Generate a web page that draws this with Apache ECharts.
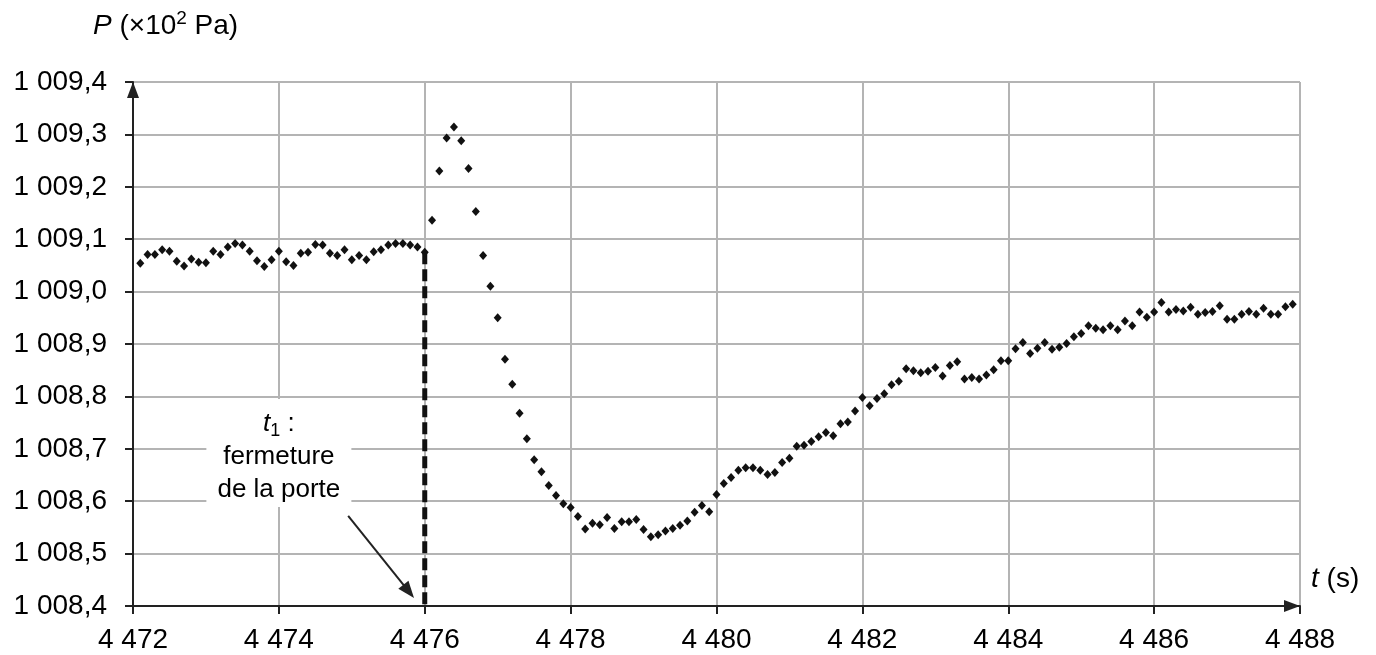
<!DOCTYPE html>
<html>
<head>
<meta charset="utf-8">
<script src="https://cdn.jsdelivr.net/npm/echarts@6/dist/echarts.min.js"></script>
<style>
  html, body { margin: 0; padding: 0; background: #ffffff; }
  #chart { width: 1376px; height: 655px; }
</style>
</head>
<body>
<div id="chart"></div>
<script>
// ---- axis settings and tick labels ----
const xMin = 4472, xMax = 4488, xStep = 2;
const yMin = 1008.4, yMax = 1009.4, yStep = 0.1;
const xTickLabels = ['4 472', '4 474', '4 476', '4 478', '4 480', '4 482', '4 484', '4 486', '4 488'];
const yTickLabels = ['1 008,4', '1 008,5', '1 008,6', '1 008,7', '1 008,8', '1 008,9', '1 009,0', '1 009,1', '1 009,2', '1 009,3', '1 009,4'];

// ---- measured samples: time t (s) ----
const times = [
  4472.1, 4472.2, 4472.3, 4472.4, 4472.5, 4472.6, 4472.7, 4472.8, 4472.9, 4473.0,
  4473.1, 4473.2, 4473.3, 4473.4, 4473.5, 4473.6, 4473.7, 4473.8, 4473.9, 4474.0,
  4474.1, 4474.2, 4474.3, 4474.4, 4474.5, 4474.6, 4474.7, 4474.8, 4474.9, 4475.0,
  4475.1, 4475.2, 4475.3, 4475.4, 4475.5, 4475.6, 4475.7, 4475.8, 4475.9, 4476.0,
  4476.1, 4476.2, 4476.3, 4476.4, 4476.5, 4476.6, 4476.7, 4476.8, 4476.9, 4477.0,
  4477.1, 4477.2, 4477.3, 4477.4, 4477.5, 4477.6, 4477.7, 4477.8, 4477.9, 4478.0,
  4478.1, 4478.2, 4478.3, 4478.4, 4478.5, 4478.6, 4478.7, 4478.8, 4478.9, 4479.0,
  4479.1, 4479.2, 4479.3, 4479.4, 4479.5, 4479.6, 4479.7, 4479.8, 4479.9, 4480.0,
  4480.1, 4480.2, 4480.3, 4480.4, 4480.5, 4480.6, 4480.7, 4480.8, 4480.9, 4481.0,
  4481.1, 4481.2, 4481.3, 4481.4, 4481.5, 4481.6, 4481.7, 4481.8, 4481.9, 4482.0,
  4482.1, 4482.2, 4482.3, 4482.4, 4482.5, 4482.6, 4482.7, 4482.8, 4482.9, 4483.0,
  4483.1, 4483.2, 4483.3, 4483.4, 4483.5, 4483.6, 4483.7, 4483.8, 4483.9, 4484.0,
  4484.1, 4484.2, 4484.3, 4484.4, 4484.5, 4484.6, 4484.7, 4484.8, 4484.9, 4485.0,
  4485.1, 4485.2, 4485.3, 4485.4, 4485.5, 4485.6, 4485.7, 4485.8, 4485.9, 4486.0,
  4486.1, 4486.2, 4486.3, 4486.4, 4486.5, 4486.6, 4486.7, 4486.8, 4486.9, 4487.0,
  4487.1, 4487.2, 4487.3, 4487.4, 4487.5, 4487.6, 4487.7, 4487.8, 4487.9
];

// ---- measured samples: pressure P (x10^2 Pa) ----
const pressure = [
  1009.054, 1009.071, 1009.071, 1009.080, 1009.077, 1009.058, 1009.049, 1009.062, 1009.056, 1009.055,
  1009.077, 1009.071, 1009.085, 1009.092, 1009.089, 1009.077, 1009.059, 1009.048, 1009.061, 1009.077,
  1009.057, 1009.050, 1009.073, 1009.075, 1009.090, 1009.089, 1009.073, 1009.069, 1009.080, 1009.061,
  1009.069, 1009.061, 1009.076, 1009.080, 1009.089, 1009.092, 1009.092, 1009.089, 1009.085, 1009.075,
  1009.136, 1009.230, 1009.293, 1009.314, 1009.288, 1009.235, 1009.153, 1009.069, 1009.010, 1008.950,
  1008.871, 1008.823, 1008.768, 1008.719, 1008.679, 1008.656, 1008.630, 1008.611, 1008.595, 1008.588,
  1008.571, 1008.547, 1008.558, 1008.555, 1008.569, 1008.548, 1008.561, 1008.561, 1008.565, 1008.546,
  1008.532, 1008.536, 1008.543, 1008.548, 1008.554, 1008.562, 1008.579, 1008.592, 1008.580, 1008.613,
  1008.634, 1008.645, 1008.659, 1008.664, 1008.664, 1008.659, 1008.651, 1008.655, 1008.674, 1008.682,
  1008.705, 1008.707, 1008.714, 1008.723, 1008.731, 1008.725, 1008.748, 1008.751, 1008.772, 1008.798,
  1008.782, 1008.796, 1008.805, 1008.822, 1008.829, 1008.853, 1008.849, 1008.845, 1008.848, 1008.855,
  1008.839, 1008.859, 1008.866, 1008.833, 1008.836, 1008.833, 1008.841, 1008.851, 1008.868, 1008.868,
  1008.891, 1008.903, 1008.882, 1008.892, 1008.903, 1008.890, 1008.894, 1008.901, 1008.914, 1008.920,
  1008.935, 1008.930, 1008.927, 1008.935, 1008.927, 1008.944, 1008.935, 1008.961, 1008.951, 1008.961,
  1008.979, 1008.961, 1008.966, 1008.963, 1008.970, 1008.957, 1008.960, 1008.962, 1008.973, 1008.947,
  1008.947, 1008.957, 1008.962, 1008.957, 1008.968, 1008.957, 1008.957, 1008.971, 1008.976
];

// ---- annotation: door closing instant t1 ----
const t1 = 4476.0;
const t1Label = ['t', '1', ' :', 'fermeture', 'de la porte'];
const annotAnchor = [4474.0, 1008.692];            // centre of the text box
const arrowStart = [4474.95, 1008.572];
const arrowEnd = [4475.78, 1008.428];

const points = times.map((t, i) => [t, pressure[i]]);
const t1Index = times.indexOf(t1);
const dashLine = [[t1, pressure[t1Index]], [t1, yMin]];

const FONT = 'Liberation Sans, Arial, Helvetica, sans-serif';
const INK = '#111111';
const TXT = '#000000';
const GRID = '#b4b4b4';

const chart = echarts.init(document.getElementById('chart'), null, { renderer: 'canvas' });

const option = {
  backgroundColor: '#ffffff',
  animation: false,
  grid: { left: 133, right: 76, top: 82, bottom: 49, containLabel: false },
  xAxis: {
    type: 'value',
    min: xMin, max: xMax, interval: xStep,
    axisLine: {
      show: true,
      lineStyle: { color: '#222', width: 2 },
      symbol: ['none', 'triangle'],
      symbolSize: [12, 16],
      symbolOffset: [0, -8]
    },
    axisTick: { show: true, length: 8, inside: false, lineStyle: { color: '#222', width: 2 } },
    axisLabel: {
      fontSize: 28, color: TXT, fontFamily: FONT, margin: 20,
      formatter: v => xTickLabels[Math.round((v - xMin) / xStep)]
    },
    splitLine: { show: true, lineStyle: { color: GRID, width: 2 } }
  },
  yAxis: {
    type: 'value',
    min: yMin, max: yMax, interval: yStep,
    axisLine: {
      show: true,
      lineStyle: { color: '#222', width: 2 },
      symbol: ['none', 'triangle'],
      symbolSize: [12, 16],
      symbolOffset: [0, -8]
    },
    axisTick: { show: true, length: 8, inside: false, lineStyle: { color: '#222', width: 2 } },
    axisLabel: {
      fontSize: 28, color: TXT, fontFamily: FONT, margin: 26,
      formatter: v => yTickLabels[Math.round((v - yMin) / yStep)]
    },
    splitLine: { show: true, lineStyle: { color: GRID, width: 2 } }
  },
  series: [
    {
      name: 'closing',
      type: 'line',
      data: dashLine,
      symbol: 'none',
      z: 3,
      lineStyle: { color: '#111', width: 5, type: [12, 5] },
      markLine: {
        silent: true,
        symbol: ['none', 'triangle'],
        symbolSize: [13, 17],
        label: { show: false },
        lineStyle: { color: '#222', width: 2, type: 'solid', opacity: 1 },
        data: [[{ coord: arrowStart }, { coord: arrowEnd }]]
      }
    },
    {
      name: 'P',
      type: 'scatter',
      data: points,
      symbol: 'diamond',
      symbolSize: [8, 9],
      z: 4,
      itemStyle: { color: INK, opacity: 1 }
    },
    {
      name: 'annotation',
      type: 'scatter',
      data: [annotAnchor],
      symbolSize: 0,
      z: 2,
      itemStyle: { opacity: 1 },
      label: {
        show: true,
        position: 'inside',
        color: TXT,
        opacity: 1,
        backgroundColor: '#ffffff',
        padding: [8, 10, 1, 10],
        width: 125,
        align: 'center',
        verticalAlign: 'middle',
        formatter: '{it|' + t1Label[0] + '}{sub|' + t1Label[1] + '}{n|' + t1Label[2] + '}\n{n|' + t1Label[3] + '}\n{n|' + t1Label[4] + '}',
        rich: {
          it: { fontSize: 26, fontStyle: 'italic', fontFamily: FONT, color: TXT, lineHeight: 33 },
          sub: { fontSize: 18, fontFamily: FONT, color: TXT, lineHeight: 16, verticalAlign: 'bottom' },
          n: { fontSize: 26, fontFamily: FONT, color: TXT, lineHeight: 33, align: 'center' }
        }
      }
    }
  ],
  graphic: [
    {
      type: 'text',
      left: 93, top: 9,
      style: {
        text: '{it|P}{n| (×10}{sup|2}{n| Pa)}',
        rich: {
          it: { fontSize: 28, fontStyle: 'italic', fontFamily: FONT, fill: TXT, lineHeight: 34 },
          n: { fontSize: 28, fontFamily: FONT, fill: TXT, lineHeight: 34 },
          sup: { fontSize: 19, fontFamily: FONT, fill: TXT, lineHeight: 22, verticalAlign: 'top' }
        }
      }
    },
    {
      type: 'text',
      left: 1311, top: 565,
      style: {
        text: '{it|t}{n| (s)}',
        rich: {
          it: { fontSize: 28, fontStyle: 'italic', fontFamily: FONT, fill: TXT, lineHeight: 34 },
          n: { fontSize: 28, fontFamily: FONT, fill: TXT, lineHeight: 34 }
        }
      }
    }
  ]
};

chart.setOption(option);
</script>
</body>
</html>
